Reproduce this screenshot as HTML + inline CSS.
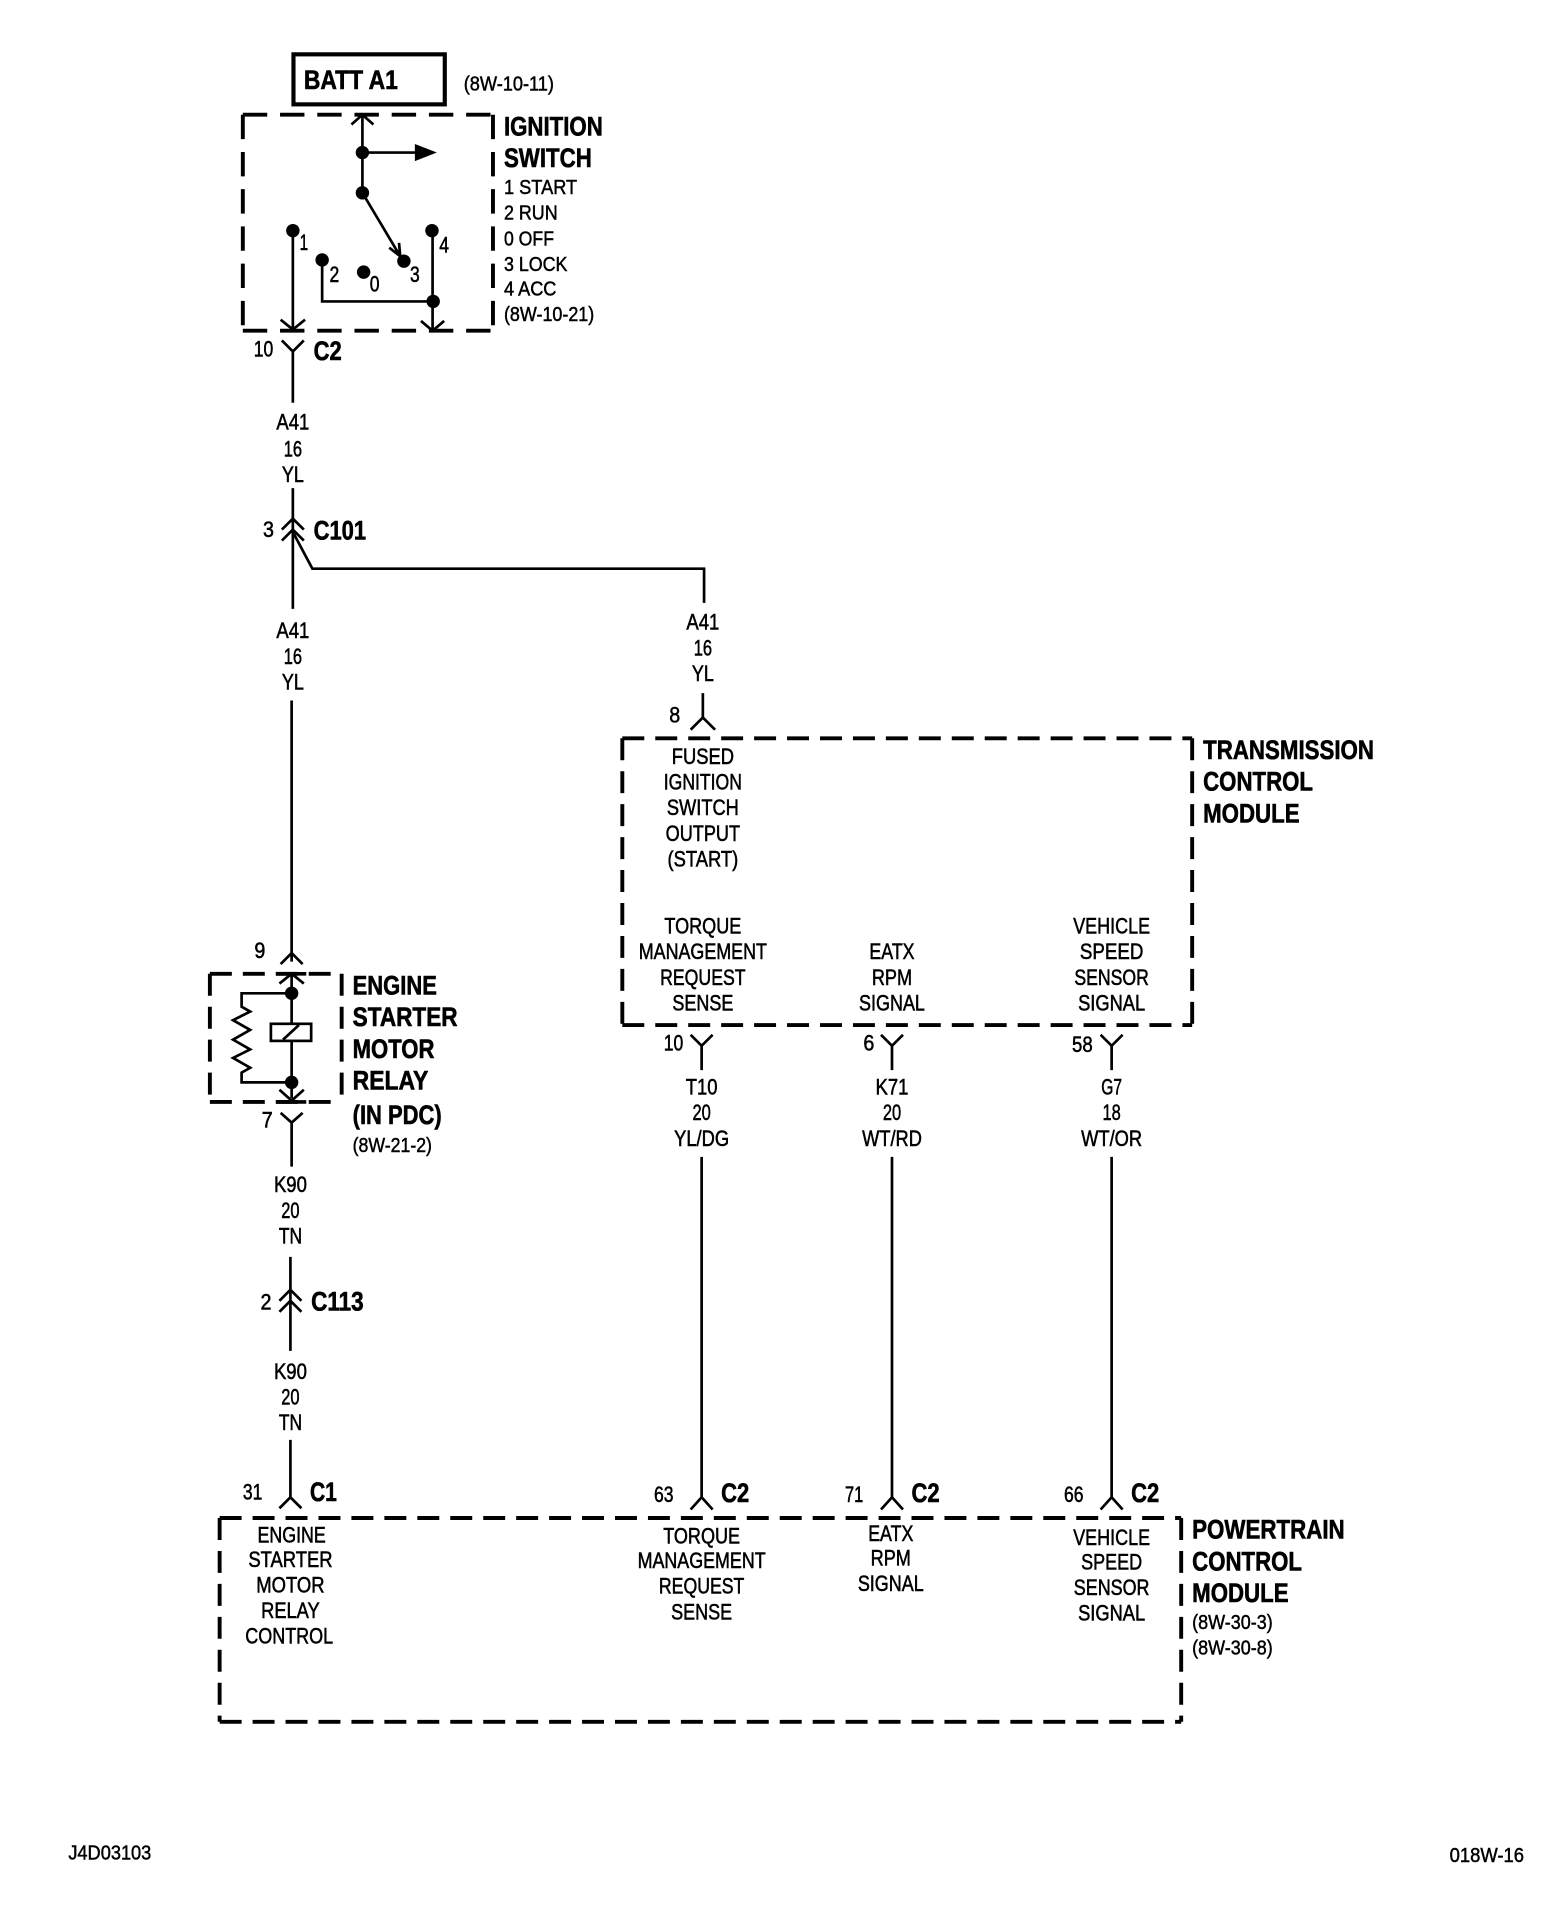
<!DOCTYPE html>
<html><head><meta charset="utf-8"><style>
html,body{margin:0;padding:0;background:#fff}
svg{display:block}
text{font-family:"Liberation Sans",sans-serif;fill:#000}
.r{font-size:18.5px;text-anchor:middle;stroke:#000;stroke-width:.45}
.s{font-size:17px;stroke:#000;stroke-width:.4}
.b{font-size:22px;font-weight:bold;stroke:#000;stroke-width:.5}
.w{fill:none;stroke:#000;stroke-width:2.2}
.t{fill:none;stroke:#000;stroke-width:3.2;stroke-dasharray:18 9}
.d{fill:none;stroke:#000;stroke-width:3.2;stroke-dasharray:20 10.5}
</style></head><body>
<svg xmlns="http://www.w3.org/2000/svg" width="1568" height="1914" viewBox="0 0 1285 1568.5">
<rect width="1285" height="1569" fill="#fff"/>

<!-- BATT -->
<rect x="240.5" y="44.5" width="124" height="41" fill="none" stroke="#000" stroke-width="3.4"/>
<text class="b" x="249" y="73" textLength="77" lengthAdjust="spacingAndGlyphs">BATT A1</text>
<text class="s" x="380" y="74" textLength="74" lengthAdjust="spacingAndGlyphs">(8W-10-11)</text>

<!-- Ignition switch -->
<path class="d" d="M199 94H404"/><path class="d" d="M199 94V271"/><path class="d" d="M199 271H404"/><path class="d" d="M404 94V271"/>
<path class="w" d="M288 102L297 94L306 102M297 94V158"/>
<circle cx="297" cy="125" r="5.5"/><circle cx="297" cy="158" r="5.5"/>
<path class="w" d="M297 125H342"/><path d="M340 118L358 125L340 132Z"/>
<path class="w" d="M297 158L328 210M319 203L328 210L327 199"/><circle cx="331" cy="214" r="5.5"/>
<circle cx="240" cy="189" r="5.5"/><path class="w" d="M240 189V270M230 262L240 270L250 262"/>
<circle cx="264" cy="213" r="5.5"/><path class="w" d="M264 213V247H355"/>
<circle cx="298" cy="223" r="5.5"/>
<circle cx="354" cy="189" r="5.5"/><path class="w" d="M354.500 189V271M345 263L354.500 271L364 263"/>
<circle cx="355" cy="247" r="5.500"/>
<text class="r" x="249" y="205" textLength="7" lengthAdjust="spacingAndGlyphs">1</text><text class="r" x="274" y="231" textLength="8" lengthAdjust="spacingAndGlyphs">2</text><text class="r" x="307" y="239" textLength="8" lengthAdjust="spacingAndGlyphs">0</text><text class="r" x="340" y="231" textLength="8" lengthAdjust="spacingAndGlyphs">3</text><text class="r" x="364" y="207" textLength="8" lengthAdjust="spacingAndGlyphs">4</text>
<text class="b" x="413" y="111" textLength="81" lengthAdjust="spacingAndGlyphs">IGNITION</text>
<text class="b" x="413" y="137" textLength="72" lengthAdjust="spacingAndGlyphs">SWITCH</text>
<text class="s" x="413" y="159" textLength="60" lengthAdjust="spacingAndGlyphs">1 START</text>
<text class="s" x="413" y="180" textLength="44" lengthAdjust="spacingAndGlyphs">2 RUN</text>
<text class="s" x="413" y="201" textLength="41" lengthAdjust="spacingAndGlyphs">0 OFF</text>
<text class="s" x="413" y="222" textLength="52" lengthAdjust="spacingAndGlyphs">3 LOCK</text>
<text class="s" x="413" y="242" textLength="43" lengthAdjust="spacingAndGlyphs">4 ACC</text>
<text class="s" x="413" y="263" textLength="74" lengthAdjust="spacingAndGlyphs">(8W-10-21)</text>

<!-- C2 -->
<path class="w" d="M231 279L240 288L249 279M240 288V330"/>
<text class="r" x="216" y="292" textLength="16" lengthAdjust="spacingAndGlyphs">10</text>
<text class="b" x="257" y="295" textLength="23" lengthAdjust="spacingAndGlyphs">C2</text>
<text class="r" x="240" y="352" textLength="27" lengthAdjust="spacingAndGlyphs">A41</text>
<text class="r" x="240" y="374" textLength="15" lengthAdjust="spacingAndGlyphs">16</text>
<text class="r" x="240" y="395" textLength="18" lengthAdjust="spacingAndGlyphs">YL</text>

<!-- C101 -->
<path class="w" d="M240 400V499M231 434L240 425L249 434M231 443L240 434L249 443M240 436L256 466H577V494"/>
<text class="r" x="220" y="440" textLength="9" lengthAdjust="spacingAndGlyphs">3</text>
<text class="b" x="257" y="442" textLength="43" lengthAdjust="spacingAndGlyphs">C101</text>
<text class="r" x="240" y="523" textLength="27" lengthAdjust="spacingAndGlyphs">A41</text>
<text class="r" x="240" y="544" textLength="15" lengthAdjust="spacingAndGlyphs">16</text>
<text class="r" x="240" y="565" textLength="18" lengthAdjust="spacingAndGlyphs">YL</text>
<text class="r" x="576" y="516" textLength="27" lengthAdjust="spacingAndGlyphs">A41</text>
<text class="r" x="576" y="537" textLength="15" lengthAdjust="spacingAndGlyphs">16</text>
<text class="r" x="576" y="558" textLength="18" lengthAdjust="spacingAndGlyphs">YL</text>

<!-- Relay -->
<path class="w" d="M239 574V788M230 790L239 781L248 790"/>
<text class="r" x="213" y="785" textLength="9" lengthAdjust="spacingAndGlyphs">9</text>
<path class="t" d="M172 798H280"/><path class="t" d="M172 798V903"/><path class="t" d="M172 903H280"/><path class="t" d="M280 798V903"/>
<path d="M227 796.500H251V799.500H227ZM227 901.500H251V904.500H227Z"/>
<path class="w" d="M229 806L239 798L249 806M239 798V900M229 893L239 902L249 893"/>
<circle cx="239" cy="814" r="5.500"/><circle cx="239" cy="887" r="5.500"/>
<rect x="222" y="839" width="33" height="14" fill="#fff" stroke="#000" stroke-width="2.2"/>
<path class="w" d="M232 852L245 840"/>
<path class="w" d="M239 814H198V825L205 829L191 836L205 844L191 852L205 860L191 867L205 875L198 879V887H239"/>
<text class="b" x="289" y="815" textLength="69" lengthAdjust="spacingAndGlyphs">ENGINE</text>
<text class="b" x="289" y="841" textLength="86" lengthAdjust="spacingAndGlyphs">STARTER</text>
<text class="b" x="289" y="867" textLength="67" lengthAdjust="spacingAndGlyphs">MOTOR</text>
<text class="b" x="289" y="893" textLength="62" lengthAdjust="spacingAndGlyphs">RELAY</text>
<text class="b" x="289" y="921" textLength="73" lengthAdjust="spacingAndGlyphs">(IN PDC)</text>
<text class="s" x="289" y="944" textLength="65" lengthAdjust="spacingAndGlyphs">(8W-21-2)</text>
<path class="w" d="M230 912L239 920L248 912M239 920V956"/>
<text class="r" x="219" y="924" textLength="9" lengthAdjust="spacingAndGlyphs">7</text>
<text class="r" x="238" y="977" textLength="27" lengthAdjust="spacingAndGlyphs">K90</text>
<text class="r" x="238" y="998" textLength="15" lengthAdjust="spacingAndGlyphs">20</text>
<text class="r" x="238" y="1019" textLength="19" lengthAdjust="spacingAndGlyphs">TN</text>

<!-- C113 -->
<path class="w" d="M238 1030V1107M229 1066L238 1057L247 1066M229 1075L238 1066L247 1075"/>
<text class="r" x="218" y="1073" textLength="9" lengthAdjust="spacingAndGlyphs">2</text>
<text class="b" x="255" y="1074" textLength="43" lengthAdjust="spacingAndGlyphs">C113</text>
<text class="r" x="238" y="1130" textLength="27" lengthAdjust="spacingAndGlyphs">K90</text>
<text class="r" x="238" y="1151" textLength="15" lengthAdjust="spacingAndGlyphs">20</text>
<text class="r" x="238" y="1172" textLength="19" lengthAdjust="spacingAndGlyphs">TN</text>
<path class="w" d="M238 1180V1227M229 1236L238 1227L247 1236"/>

<!-- TCM top pin -->
<path class="w" d="M576 568V588M566 598L576 588L586 598"/>
<text class="r" x="553" y="592" textLength="9" lengthAdjust="spacingAndGlyphs">8</text>
<path class="t" d="M510 605H977"/><path class="t" d="M510 605V840"/><path class="t" d="M510 840H977"/><path class="t" d="M977 605V840"/>
<text class="b" x="986" y="622" textLength="140" lengthAdjust="spacingAndGlyphs">TRANSMISSION</text>
<text class="b" x="986" y="648" textLength="90" lengthAdjust="spacingAndGlyphs">CONTROL</text>
<text class="b" x="986" y="674" textLength="79" lengthAdjust="spacingAndGlyphs">MODULE</text>
<text class="r" x="576" y="626" textLength="51" lengthAdjust="spacingAndGlyphs">FUSED</text>
<text class="r" x="576" y="647" textLength="64" lengthAdjust="spacingAndGlyphs">IGNITION</text>
<text class="r" x="576" y="668" textLength="59" lengthAdjust="spacingAndGlyphs">SWITCH</text>
<text class="r" x="576" y="689" textLength="61" lengthAdjust="spacingAndGlyphs">OUTPUT</text>
<text class="r" x="576" y="710" textLength="58" lengthAdjust="spacingAndGlyphs">(START)</text>
<text class="r" x="576" y="765" textLength="63" lengthAdjust="spacingAndGlyphs">TORQUE</text>
<text class="r" x="576" y="786" textLength="105" lengthAdjust="spacingAndGlyphs">MANAGEMENT</text>
<text class="r" x="576" y="807" textLength="70" lengthAdjust="spacingAndGlyphs">REQUEST</text>
<text class="r" x="576" y="828" textLength="50" lengthAdjust="spacingAndGlyphs">SENSE</text>
<text class="r" x="731" y="786" textLength="37" lengthAdjust="spacingAndGlyphs">EATX</text>
<text class="r" x="731" y="807" textLength="33" lengthAdjust="spacingAndGlyphs">RPM</text>
<text class="r" x="731" y="828" textLength="54" lengthAdjust="spacingAndGlyphs">SIGNAL</text>
<text class="r" x="911" y="765" textLength="63" lengthAdjust="spacingAndGlyphs">VEHICLE</text>
<text class="r" x="911" y="786" textLength="52" lengthAdjust="spacingAndGlyphs">SPEED</text>
<text class="r" x="911" y="807" textLength="61" lengthAdjust="spacingAndGlyphs">SENSOR</text>
<text class="r" x="911" y="828" textLength="55" lengthAdjust="spacingAndGlyphs">SIGNAL</text>

<!-- TCM bottom pins -->
<path class="w" d="M566 848L575 857L584 848M575 857V877"/>
<path class="w" d="M722 848L731 857L740 848M731 857V877"/>
<path class="w" d="M902 848L911 857L920 848M911 857V877"/>
<text class="r" x="552" y="861" textLength="16" lengthAdjust="spacingAndGlyphs">10</text><text class="r" x="712" y="861" textLength="9" lengthAdjust="spacingAndGlyphs">6</text><text class="r" x="887" y="862" textLength="17" lengthAdjust="spacingAndGlyphs">58</text>
<text class="r" x="575" y="897" textLength="26" lengthAdjust="spacingAndGlyphs">T10</text>
<text class="r" x="575" y="918" textLength="15" lengthAdjust="spacingAndGlyphs">20</text>
<text class="r" x="575" y="939" textLength="45" lengthAdjust="spacingAndGlyphs">YL/DG</text>
<text class="r" x="731" y="897" textLength="27" lengthAdjust="spacingAndGlyphs">K71</text>
<text class="r" x="731" y="918" textLength="15" lengthAdjust="spacingAndGlyphs">20</text>
<text class="r" x="731" y="939" textLength="49" lengthAdjust="spacingAndGlyphs">WT/RD</text>
<text class="r" x="911" y="897" textLength="17" lengthAdjust="spacingAndGlyphs">G7</text>
<text class="r" x="911" y="918" textLength="15" lengthAdjust="spacingAndGlyphs">18</text>
<text class="r" x="911" y="939" textLength="50" lengthAdjust="spacingAndGlyphs">WT/OR</text>
<path class="w" d="M575 948V1227M566 1237L575 1227L584 1237"/>
<path class="w" d="M731 948V1227M722 1237L731 1227L740 1237"/>
<path class="w" d="M911 948V1227M902 1237L911 1227L920 1237"/>

<!-- PCM -->
<text class="r" x="207" y="1229" textLength="16" lengthAdjust="spacingAndGlyphs">31</text>
<text class="b" x="254" y="1230" textLength="22" lengthAdjust="spacingAndGlyphs">C1</text>
<text class="r" x="544" y="1231" textLength="16" lengthAdjust="spacingAndGlyphs">63</text>
<text class="b" x="591" y="1231" textLength="23" lengthAdjust="spacingAndGlyphs">C2</text>
<text class="r" x="700" y="1231" textLength="15" lengthAdjust="spacingAndGlyphs">71</text>
<text class="b" x="747" y="1231" textLength="23" lengthAdjust="spacingAndGlyphs">C2</text>
<text class="r" x="880" y="1231" textLength="16" lengthAdjust="spacingAndGlyphs">66</text>
<text class="b" x="927" y="1231" textLength="23" lengthAdjust="spacingAndGlyphs">C2</text>
<path class="t" d="M180 1244H968"/><path class="t" d="M180 1244V1411"/><path class="t" d="M180 1411H968"/><path class="t" d="M968 1244V1411"/>
<text class="r" x="239" y="1264" textLength="56" lengthAdjust="spacingAndGlyphs">ENGINE</text>
<text class="r" x="238" y="1284" textLength="69" lengthAdjust="spacingAndGlyphs">STARTER</text>
<text class="r" x="238" y="1305" textLength="56" lengthAdjust="spacingAndGlyphs">MOTOR</text>
<text class="r" x="238" y="1326" textLength="48" lengthAdjust="spacingAndGlyphs">RELAY</text>
<text class="r" x="237" y="1347" textLength="72" lengthAdjust="spacingAndGlyphs">CONTROL</text>
<text class="r" x="575" y="1265" textLength="63" lengthAdjust="spacingAndGlyphs">TORQUE</text>
<text class="r" x="575" y="1285" textLength="105" lengthAdjust="spacingAndGlyphs">MANAGEMENT</text>
<text class="r" x="575" y="1306" textLength="70" lengthAdjust="spacingAndGlyphs">REQUEST</text>
<text class="r" x="575" y="1327" textLength="50" lengthAdjust="spacingAndGlyphs">SENSE</text>
<text class="r" x="730" y="1263" textLength="37" lengthAdjust="spacingAndGlyphs">EATX</text>
<text class="r" x="730" y="1283" textLength="33" lengthAdjust="spacingAndGlyphs">RPM</text>
<text class="r" x="730" y="1304" textLength="54" lengthAdjust="spacingAndGlyphs">SIGNAL</text>
<text class="r" x="911" y="1266" textLength="63" lengthAdjust="spacingAndGlyphs">VEHICLE</text>
<text class="r" x="911" y="1286" textLength="50" lengthAdjust="spacingAndGlyphs">SPEED</text>
<text class="r" x="911" y="1307" textLength="62" lengthAdjust="spacingAndGlyphs">SENSOR</text>
<text class="r" x="911" y="1328" textLength="55" lengthAdjust="spacingAndGlyphs">SIGNAL</text>
<text class="b" x="977" y="1261" textLength="125" lengthAdjust="spacingAndGlyphs">POWERTRAIN</text>
<text class="b" x="977" y="1287" textLength="90" lengthAdjust="spacingAndGlyphs">CONTROL</text>
<text class="b" x="977" y="1313" textLength="79" lengthAdjust="spacingAndGlyphs">MODULE</text>
<text class="s" x="977" y="1335" textLength="66" lengthAdjust="spacingAndGlyphs">(8W-30-3)</text>
<text class="s" x="977" y="1356" textLength="66" lengthAdjust="spacingAndGlyphs">(8W-30-8)</text>

<text class="s" x="56" y="1524" textLength="68" lengthAdjust="spacingAndGlyphs">J4D03103</text>
<text class="s" x="1188" y="1526" textLength="61" lengthAdjust="spacingAndGlyphs">018W-16</text>
</svg>
</body></html>
